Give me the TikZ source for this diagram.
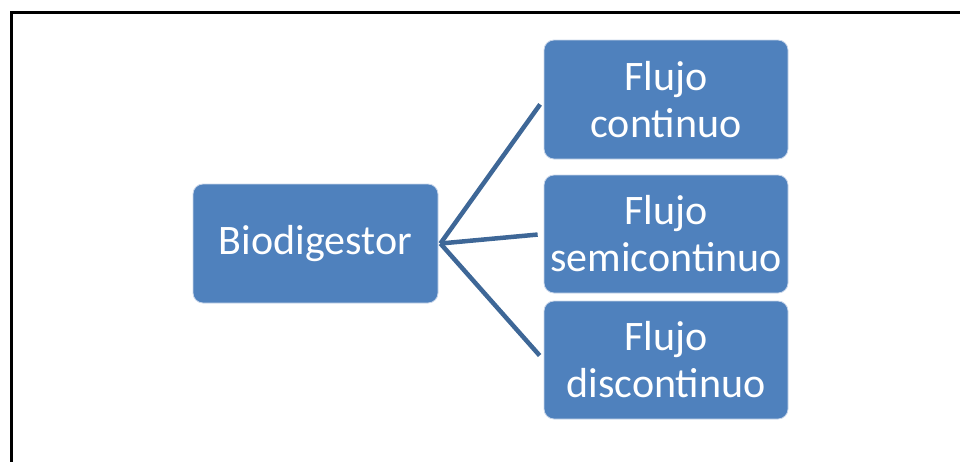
\documentclass[tikz,border=0pt]{standalone}
\usepackage{fontspec}
\setmainfont{Carlito}
\usetikzlibrary{calc}
\definecolor{boxblue}{HTML}{4F81BD}
\definecolor{boxedge}{HTML}{C9D6EA}
\definecolor{linkblue}{HTML}{3E6797}
\tikzset{
  item/.style={rectangle, rounded corners=10pt, fill=boxblue, draw=boxedge, line width=0.8pt,
    text=white, align=center, inner sep=0pt, font=\fontsize{42}{47}\selectfont},
  link/.style={draw=linkblue, line width=4.5pt, shorten >=6pt}
}
\begin{document}
\begin{tikzpicture}[x=1pt,y=-1pt]
\useasboundingbox (0,0) rectangle (960,461);
\draw[line width=3pt, line cap=rect] (11,461) -- (11,12) -- (960,12);
\node[item, minimum width=245pt, minimum height=119pt] (bio) at (315.5,243.5) {Biodigestor};
\node[item, minimum width=244pt, minimum height=119pt] (c1) at (666,99.5) {Flujo\\continuo};
\node[item, minimum width=244pt, minimum height=118pt] (c2) at (666,234) {Flujo\\semicontinuo};
\node[item, minimum width=244pt, minimum height=118pt] (c3) at (666,360) {Flujo\\discontinuo};
\coordinate (hub) at ($(bio.east)+(2,0)$);
\draw[link] (hub) -- (c1.west);
\draw[link] (hub) -- (c2.west);
\draw[link] (hub) -- (c3.west);
\end{tikzpicture}
\end{document}
